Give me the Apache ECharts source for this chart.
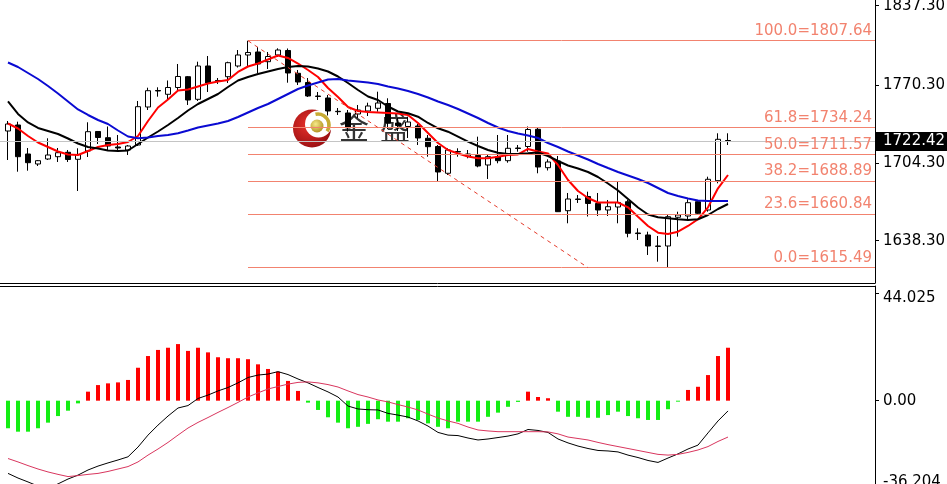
<!DOCTYPE html>
<html><head><meta charset="utf-8">
<script src="https://cdn.jsdelivr.net/npm/echarts@6/dist/echarts.min.js"></script>
<style>html,body{margin:0;padding:0;background:#fff;}#c{width:947px;height:484px;}</style>
</head><body><div id="c"></div>
<script>
// ---- candles (OHLC) ----
const opens = [1731.21,1736.29,1711.74,1703.27,1707.50,1709.45,1713.18,1707.25,1714.28,1730.79,
1725.54,1717.67,1715.12,1719.36,1751.53,1765.50,1762.29,1768.04,1777.19,1758.05,
1786.25,1773.97,1777.19,1786.25,1795.56,1798.10,1789.89,1795.56,1799.37,1780.07,
1772.28,1760.85,1759.15,1747.89,1746.45,1745.60,1748.15,1750.43,1754.50,1737.99,
1735.02,1735.45,1725.03,1718.09,1695.40,1713.85,1710.04,1710.47,1702.42,1709.45,
1706.07,1716.82,1718.09,1732.65,1700.14,1705.81,1663.73,1673.64,1675.75,1669.83,
1664.32,1666.86,1671.35,1644.85,1643.16,1633.84,1633.84,1658.14,1659.24,1671.35,
1664.32,1689.13,1723.17];
const closes = [1737.14,1709.45,1704.37,1706.07,1710.89,1712.84,1707.08,1711.31,1730.62,1725.71,
1718.51,1716.82,1718.51,1751.79,1765.33,1765.08,1768.04,1777.36,1757.46,1786.25,
1771.85,1773.55,1789.04,1795.56,1797.68,1787.94,1794.29,1799.79,1780.32,1772.70,
1760.85,1760.42,1748.15,1747.55,1733.75,1748.99,1752.38,1754.92,1737.99,1735.87,
1738.83,1725.29,1717.92,1696.50,1715.12,1713.43,1711.74,1701.58,1709.45,1706.07,
1716.56,1716.39,1732.48,1700.73,1704.96,1662.88,1673.64,1673.21,1669.83,1664.32,
1667.12,1670.67,1644.59,1644.34,1633.84,1633.50,1658.65,1660.09,1670.50,1661.53,
1690.32,1724.18,1722.42];
const highs = [1739.68,1739.09,1716.82,1706.66,1725.03,1716.82,1715.12,1716.56,1738.58,1731.21,
1735.02,1727.83,1719.36,1756.61,1767.87,1768.21,1773.97,1787.94,1777.78,1789.89,
1794.71,1776.09,1789.89,1799.79,1807.64,1802.34,1798.10,1801.23,1801.07,1782.86,
1776.09,1764.23,1761.69,1750.69,1748.99,1753.23,1755.17,1764.49,1758.90,1742.22,
1743.32,1737.14,1727.83,1719.36,1716.56,1716.56,1715.12,1726.39,1710.89,1727.83,
1727.83,1719.36,1735.02,1734.00,1707.25,1710.04,1678.72,1677.02,1679.82,1678.72,
1672.79,1688.03,1672.79,1648.83,1645.95,1642.31,1660.09,1662.88,1673.38,1672.79,
1692.52,1729.27,1729.27];
const lows = [1706.66,1696.75,1697.60,1701.58,1706.66,1704.96,1704.96,1680.41,1709.20,1720.21,
1714.70,1714.70,1710.89,1718.51,1748.99,1760.25,1758.31,1765.93,1753.23,1756.61,
1764.23,1771.01,1771.85,1784.98,1785.40,1780.32,1783.71,1793.87,1772.11,1770.16,
1760.00,1757.46,1744.34,1744.76,1730.79,1742.22,1743.91,1747.55,1732.91,1731.21,
1725.29,1719.36,1709.45,1688.28,1693.96,1709.45,1708.10,1700.48,1690.57,1703.86,
1704.37,1713.69,1713.69,1695.40,1697.77,1662.63,1653.06,1670.25,1658.82,1659.24,
1659.24,1653.06,1641.21,1638.92,1626.22,1620.55,1615.49,1641.72,1656.45,1660.94,
1662.88,1686.93,1719.36];
// ---- moving averages ----
const maFast = [1737.56,1733.33,1726.98,1721.48,1717.67,1713.85,1711.31,1710.89,1714.28,1717.67,
1719.36,1720.21,1721.90,1726.98,1739.68,1751.11,1757.88,1765.50,1766.35,1768.89,
1771.43,1773.12,1774.39,1781.17,1785.82,1788.36,1791.75,1795.14,1793.02,1788.36,
1782.86,1776.93,1767.62,1760.00,1751.53,1748.15,1747.30,1746.88,1746.45,1746.03,
1744.76,1737.99,1729.52,1721.05,1715.12,1712.16,1709.62,1708.10,1708.10,1709.45,
1710.89,1711.31,1715.97,1713.85,1712.16,1702.42,1689.72,1680.41,1674.48,1670.67,
1670.67,1670.67,1666.61,1658.65,1650.78,1645.10,1644.00,1645.95,1650.78,1656.45,
1666.61,1682.70,1693.96];
const maMid = [1756.19,1745.61,1738.41,1733.75,1731.21,1728.67,1724.86,1720.63,1717.67,1716.39,
1714.70,1714.28,1714.70,1720.21,1725.71,1730.79,1736.29,1742.22,1748.57,1754.07,
1758.31,1762.54,1768.47,1773.97,1776.93,1779.47,1781.59,1783.71,1785.40,1786.25,
1785.82,1784.13,1781.59,1777.36,1771.85,1765.93,1760.42,1757.46,1751.96,1747.72,
1746.20,1743.32,1737.99,1733.50,1730.62,1726.39,1722.15,1718.51,1715.12,1712.84,
1711.74,1711.74,1712.33,1713.01,1710.04,1705.81,1702.00,1699.46,1696.50,1692.26,
1686.76,1680.83,1673.64,1666.44,1660.51,1658.14,1657.30,1656.45,1655.86,1656.45,
1660.09,1665.17,1669.40];
const maSlow = [1789.21,1785.40,1780.32,1775.24,1769.31,1762.96,1756.19,1749.42,1744.76,1740.53,
1737.14,1731.64,1726.56,1725.03,1725.71,1726.98,1727.83,1729.27,1731.64,1734.18,
1735.87,1737.56,1739.68,1743.07,1746.88,1750.69,1754.07,1758.31,1762.54,1766.77,
1769.74,1772.28,1774.82,1775.24,1773.97,1773.12,1772.28,1771.01,1768.89,1767.20,
1765.08,1762.54,1759.58,1756.19,1753.23,1749.84,1746.03,1742.22,1737.99,1734.18,
1731.21,1729.10,1727.40,1725.29,1721.05,1717.67,1713.85,1710.47,1707.08,1703.27,
1699.88,1696.50,1693.53,1690.57,1687.18,1682.95,1678.72,1676.18,1674.06,1672.37,
1671.94,1671.94,1671.94];
// ---- MACD ----
const macdHist = [-11.3,-12.7,-12.7,-11.3,-9.0,-6.3,-4.1,-1.1,3.7,6.4,
7.1,7.5,8.5,13.5,18.3,20.8,21.7,23.2,20.4,21.7,
19.8,17.8,17.4,17.4,17.0,14.9,13.0,11.9,8.1,4.0,
-0.8,-3.8,-6.8,-9.0,-11.3,-10.7,-9.5,-7.6,-8.6,-8.6,
-7.2,-7.9,-9.3,-10.7,-11.3,-8.6,-8.6,-8.6,-6.6,-4.9,
-2.5,-0.5,3.7,1.5,1.0,-4.5,-6.6,-6.6,-7.0,-7.0,
-5.9,-4.5,-6.3,-7.2,-7.9,-7.9,-3.5,-0.4,4.4,5.7,
10.5,18.3,21.7];
const macdDif = [-29.8,-31.7,-33.3,-35.0,-35.8,-34.1,-32.1,-30.5,-28.4,-26.8,
-25.5,-24.3,-23.0,-19.0,-14.1,-10.0,-6.3,-3.0,-2.0,0.9,
2.3,4.0,5.4,7.3,9.5,10.5,10.9,11.9,10.7,8.9,
7.3,5.4,3.6,1.5,-2.2,-3.4,-3.7,-3.8,-5.2,-5.9,
-6.7,-8.3,-10.4,-13.0,-14.1,-14.3,-15.3,-16.1,-15.7,-15.1,
-14.5,-13.6,-11.8,-12.2,-13.0,-15.7,-17.3,-18.6,-19.6,-20.4,
-20.6,-21.0,-22.3,-23.3,-24.5,-25.3,-23.5,-21.8,-19.8,-18.2,
-13.2,-8.3,-4.2];
const macdDea = [-23.7,-25.1,-26.6,-28.0,-29.2,-30.2,-31.1,-30.7,-30.2,-29.8,
-29.0,-28.0,-27.0,-25.1,-22.3,-19.8,-17.1,-14.1,-11.2,-8.9,
-6.9,-4.8,-2.8,-0.7,1.5,3.2,4.8,5.8,6.8,7.5,
7.7,7.3,6.6,5.6,4.0,2.5,1.5,0.3,-0.5,-1.6,
-2.6,-3.8,-5.5,-7.1,-8.3,-9.3,-10.8,-12.0,-12.4,-12.7,
-12.7,-12.7,-12.7,-12.7,-12.8,-13.6,-14.9,-15.5,-16.1,-17.1,
-18.0,-18.8,-19.6,-20.4,-21.2,-22.0,-22.3,-22.0,-21.2,-20.2,
-18.8,-16.7,-14.9];
// ---- fibonacci / annotations ----
const fibLevels = [1807.64, 1734.24, 1711.57, 1688.89, 1660.84, 1615.49];
const fibPercents = ['100.0', '61.8', '50.0', '38.2', '23.6', '0.0'];
const fibAnchors = [24, 58];          // candle indices of the two fib anchor points
const lastPrice = 1722.42;
// ---- axis ticks ----
const priceTicks = [1638.30, 1704.30, 1770.30, 1837.30];
const macdTicks = [-36.204, 0, 44.025];
const macdTickLabels = ['-36.204', '0.00', '44.025'];

// ---- layout constants ----
const X_MIN = -0.8, X_MAX = 86.7;
const P_MIN = 1602.5, P_MAX = 1842.13;
const M_MIN = -38.65, M_MAX = 47.0;
const FONT = 'DejaVu Sans';
const FIB_COLOR = '#f2836f';

const chart = echarts.init(document.getElementById('c'), null, {renderer: 'canvas'});
const idx = opens.map((_, i) => i);
const candleData = idx.map(i => [i, opens[i], closes[i], lows[i], highs[i]]);
const xy = arr => arr.map((v, i) => [i, v]);

const fibMarks = fibLevels.map((v, k) => [
  {coord: [fibAnchors[0], v], label: {show: true, formatter: fibPercents[k] + '=' + v.toFixed(2)}},
  {coord: [X_MAX, v]}
]);
const markData = fibMarks.concat([
  [{coord: [fibAnchors[0], fibLevels[0]], lineStyle: {type: [4, 4], color: '#e53a2a', width: 1}, label: {show: false}},
   {coord: [fibAnchors[1], fibLevels[fibLevels.length - 1]]}],
  [{coord: [X_MIN, lastPrice], lineStyle: {color: '#c4c4c4', width: 1},
    label: {show: true, position: 'end', distance: 1, formatter: lastPrice.toFixed(2),
      color: '#fff', backgroundColor: '#000', padding: [2, 8, 2, 7], lineHeight: 15,
      fontFamily: FONT, fontSize: 15}},
   {coord: [X_MAX, lastPrice]}]
]);

const axisCommonX = {type: 'value', min: X_MIN, max: X_MAX, axisLabel: {show: false},
  axisTick: {show: false}, splitLine: {show: false},
  axisLine: {show: true, onZero: false, lineStyle: {color: '#000', width: 1}}};

const gold = new echarts.graphic.RadialGradient(0.4, 0.35, 0.7, [
  {offset: 0, color: '#f6ea8a'}, {offset: 1, color: '#b08e1c'}]);
const redGrad = new echarts.graphic.RadialGradient(0.4, 0.4, 0.75, [
  {offset: 0, color: '#e8302a'}, {offset: 1, color: '#8c0a0e'}]);

chart.setOption({
  animation: false,
  backgroundColor: '#fff',
  grid: [
    {left: 0, right: 72, top: 0, height: 283, outerBoundsMode: 'none'},
    {left: 0, right: 72, top: 286, height: 209, outerBoundsMode: 'none'}
  ],
  xAxis: [
    Object.assign({gridIndex: 0, position: 'bottom'}, axisCommonX),
    Object.assign({gridIndex: 1, position: 'top'}, axisCommonX)
  ],
  yAxis: [
    {gridIndex: 0, type: 'value', position: 'right', min: P_MIN, max: P_MAX, scale: true,
      splitLine: {show: false},
      axisLine: {show: true, onZero: false, lineStyle: {color: '#000', width: 1}},
      axisTick: {show: true, length: 4, lineStyle: {color: '#000'}, customValues: priceTicks},
      axisLabel: {customValues: priceTicks, formatter: v => v.toFixed(2), color: '#000',
        fontFamily: FONT, fontSize: 15, margin: 8, padding: [5, 0, 0, 0]}},
    {gridIndex: 1, type: 'value', position: 'right', min: M_MIN, max: M_MAX,
      splitLine: {show: false},
      axisLine: {show: true, onZero: false, lineStyle: {color: '#000', width: 1}},
      axisTick: {show: true, length: 4, lineStyle: {color: '#000'}, customValues: macdTicks},
      axisLabel: {customValues: macdTicks, color: '#000', fontFamily: FONT, fontSize: 15, margin: 8,
        formatter: v => {
          const k = macdTicks.indexOf(v);
          const t = k >= 0 ? macdTickLabels[k] : String(v);
          if (v > 0) return '{hi|' + t + '}';
          if (v < 0) return '{lo|' + t + '}';
          return t;
        },
        rich: {
          hi: {padding: [10, 0, 0, 0], fontFamily: FONT, fontSize: 15, color: '#000'},
          lo: {padding: [0, 0, 14, 0], fontFamily: FONT, fontSize: 15, color: '#000'}
        }}}
  ],
  graphic: {elements: [
    {type: 'circle', silent: true, z: 1.5, shape: {cx: 312, cy: 128.5, r: 19}, style: {fill: redGrad}},
    {type: 'circle', silent: true, z: 1.5, shape: {cx: 318.5, cy: 124, r: 13.5}, style: {fill: '#fff'}},
    {type: 'arc', silent: true, z: 1.5, shape: {cx: 318, cy: 125, r: 11, startAngle: -1.8, endAngle: 0.6},
      style: {stroke: '#c7ab34', lineWidth: 3.5, fill: null}},
    {type: 'circle', silent: true, z: 1.5, shape: {cx: 317, cy: 126, r: 6.5}, style: {fill: gold}},
    {type: 'text', silent: true, z: 1.6, x: 339, y: 128,
      style: {text: '金', fontSize: 30, fontFamily: 'Noto Sans CJK SC', fill: '#333', verticalAlign: 'middle', align: 'left'}},
    {type: 'text', silent: true, z: 1.6, x: 380, y: 128,
      style: {text: '盛', fontSize: 30, fontFamily: 'Noto Sans CJK SC', fill: '#333', verticalAlign: 'middle', align: 'left'}}
  ]},
  series: [
    {type: 'line', name: 'fib', xAxisIndex: 0, yAxisIndex: 0, data: [], z: 1, silent: true,
      markLine: {silent: true, symbol: ['none', 'none'], animation: false,
        lineStyle: {color: FIB_COLOR, width: 1, type: 'solid'},
        label: {show: true, position: 'insideEndTop', distance: [3, 2], color: FIB_COLOR,
          fontFamily: FONT, fontSize: 15},
        emphasis: {disabled: true},
        data: markData}},
    {type: 'candlestick', name: 'K', xAxisIndex: 0, yAxisIndex: 0, z: 3,
      encode: {x: 0, y: [1, 2, 3, 4]},
      data: candleData, barWidth: 5,
      itemStyle: {color: '#ffffff', color0: '#000000', borderColor: '#000000', borderColor0: '#000000',
        borderColorDoji: '#000000', borderWidth: 1}},
    {type: 'line', name: 'MA fast', data: xy(maFast), z: 4, symbol: 'none', showSymbol: false,
      lineStyle: {color: '#ff0000', width: 2}},
    {type: 'line', name: 'MA mid', data: xy(maMid), z: 4, symbol: 'none', showSymbol: false,
      lineStyle: {color: '#000000', width: 2}},
    {type: 'line', name: 'MA slow', data: xy(maSlow), z: 4, symbol: 'none', showSymbol: false,
      lineStyle: {color: '#0a0ad2', width: 2}},
    {type: 'bar', name: 'MACD', xAxisIndex: 1, yAxisIndex: 1, barWidth: 4,
      data: macdHist.map((v, i) => ({value: [i, v], itemStyle: {color: v >= 0 ? '#ff0000' : '#13ee13'}}))},
    {type: 'line', name: 'DIF', xAxisIndex: 1, yAxisIndex: 1, data: xy(macdDif), symbol: 'none',
      lineStyle: {color: '#000', width: 1}, z: 4},
    {type: 'line', name: 'DEA', xAxisIndex: 1, yAxisIndex: 1, data: xy(macdDea), symbol: 'none',
      lineStyle: {color: '#d9365e', width: 1}, z: 4}
  ]
});
</script></body></html>
